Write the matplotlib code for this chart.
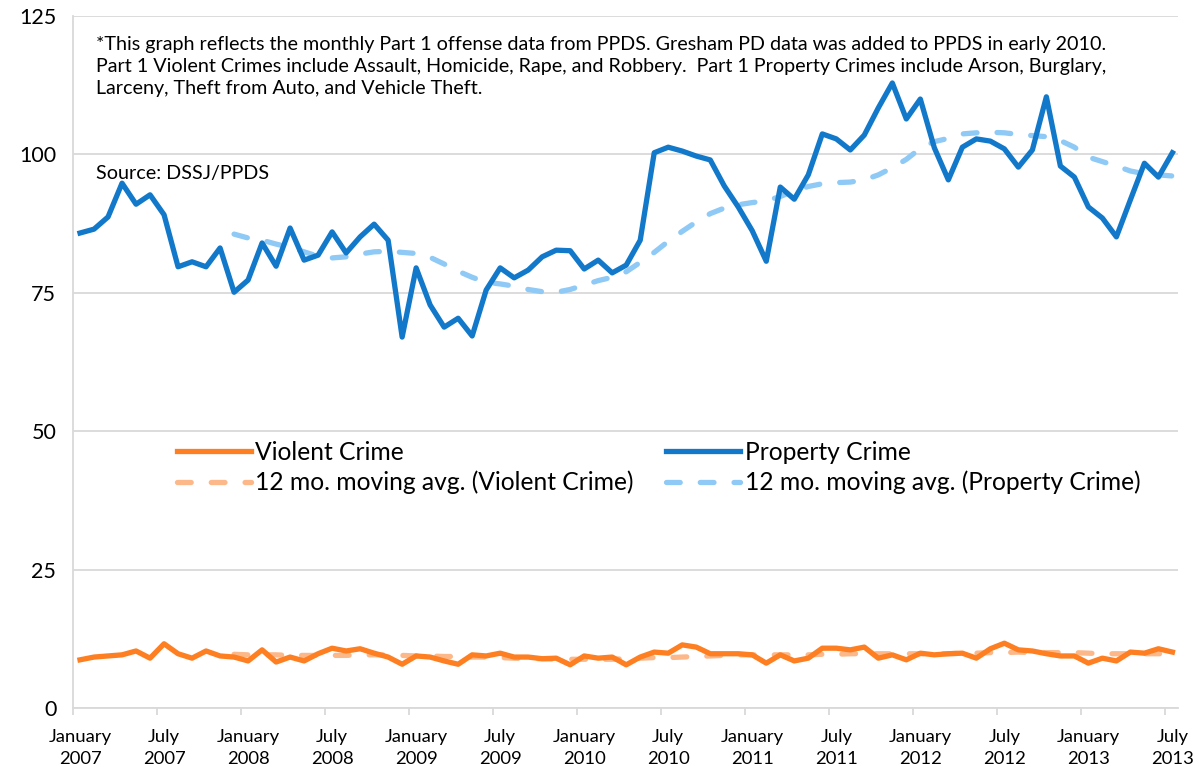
import numpy as np
import matplotlib
matplotlib.use("Agg")
import matplotlib.pyplot as plt

plt.rcParams['font.family'] = ['Lato', 'DejaVu Sans']

# monthly Part 1 offenses, Jan 2007 .. Jul 2013
property_crime = [
    85.8, 86.5, 88.7, 94.8, 91.0, 92.7, 89.1, 79.7, 80.6, 79.7, 83.1, 75.1,
    77.3, 84.0, 79.8, 86.7, 80.9, 81.8, 86.0, 82.2, 85.1, 87.4, 84.5, 67.0,
    79.5, 72.8, 68.8, 70.4, 67.2, 75.5, 79.5, 77.7, 79.1, 81.5, 82.7, 82.6,
    79.3, 80.9, 78.6, 80.0, 84.5, 100.3, 101.3, 100.6, 99.7, 99.0, 94.3, 90.5,
    86.2, 80.7, 94.1, 91.9, 96.3, 103.7, 102.8, 100.8, 103.5, 108.4, 112.9, 106.4,
    110.0, 101.2, 95.4, 101.3, 102.8, 102.4, 101.0, 97.7, 100.8, 110.4, 97.9, 95.9,
    90.5, 88.5, 85.1, 91.8, 98.4, 95.9, 100.3]

violent_crime = [
    8.7, 9.2, 9.4, 9.6, 10.3, 9.0, 11.6, 9.8, 9.0, 10.3, 9.4, 9.2,
    8.5, 10.5, 8.3, 9.2, 8.5, 9.8, 10.8, 10.3, 10.7, 9.9, 9.2, 7.9,
    9.4, 9.2, 8.5, 7.9, 9.6, 9.4, 9.9, 9.2, 9.2, 8.9, 9.0, 7.8,
    9.4, 9.0, 9.2, 7.8, 9.2, 10.1, 9.9, 11.4, 11.0, 9.8, 9.8, 9.8,
    9.6, 8.1, 9.6, 8.5, 9.0, 10.8, 10.8, 10.5, 11.0, 9.0, 9.6, 8.7,
    9.9, 9.6, 9.8, 9.9, 9.0, 10.7, 11.7, 10.5, 10.3, 9.8, 9.4, 9.4,
    8.1, 9.0, 8.5, 10.1, 9.9, 10.7, 10.1]

# 12 month moving averages, Dec 2007 .. Jul 2013
property_ma = [
    85.6, 84.9, 84.5, 83.8, 83.2, 82.4, 81.6, 81.3, 81.5, 82.0, 82.4, 82.5,
    82.3, 82.1, 81.4, 80.2, 78.9, 77.8, 76.9, 76.6, 76.2, 75.6, 75.2, 75.1,
    75.6, 76.4, 77.2, 77.8, 78.8, 80.5, 82.3, 84.3, 86.1, 87.8, 89.3, 90.3,
    90.9, 91.3, 91.6, 92.4, 93.4, 94.2, 94.7, 94.9, 95.0, 95.4, 96.3, 97.6,
    99.1, 101.1, 102.3, 102.9, 103.7, 103.9, 104.0, 103.9, 103.6, 103.4, 103.2, 102.5,
    101.3, 99.5, 98.7, 97.9, 97.0, 96.5, 96.3, 96.1]

violent_ma = [
    9.7, 9.6, 9.6, 9.6, 9.5, 9.5, 9.5, 9.5, 9.5, 9.6,
    9.6, 9.6, 9.5, 9.4, 9.4, 9.3, 9.3, 9.2, 9.2, 9.1,
    9.0, 8.9, 8.9, 8.8, 8.8, 8.8, 8.8, 8.8, 8.9, 9.0,
    9.1, 9.1, 9.2, 9.3, 9.4, 9.5, 9.6, 9.6, 9.6, 9.6,
    9.6, 9.6, 9.7, 9.7, 9.8, 9.8, 9.8, 9.8, 9.8, 9.8,
    9.8, 9.8, 9.9, 9.9, 10.0, 10.0, 10.1, 10.0, 10.0, 10.0,
    10.0, 9.9, 9.8, 9.8, 9.8, 9.8, 9.8, 9.7]

tick_labels = ['January\n2007', 'July\n2007', 'January\n2008', 'July\n2008',
               'January\n2009', 'July\n2009', 'January\n2010', 'July\n2010',
               'January\n2011', 'July\n2011', 'January\n2012', 'July\n2012',
               'January\n2013', 'July\n2013']

note = ("*This graph reflects the monthly Part 1 offense data from PPDS. Gresham PD data was added to PPDS in early 2010.\n"
        "Part 1 Violent Crimes include Assault, Homicide, Rape, and Robbery.  Part 1 Property Crimes include Arson, Burglary,\n"
        "Larceny, Theft from Auto, and Vehicle Theft.")

months = np.arange(len(property_crime))
ma_months = np.arange(len(property_crime) - len(property_ma), len(property_crime))

fig = plt.figure(figsize=(11.99, 7.73), dpi=100)
ax = fig.add_axes([0.0609, 0.0841, 0.9216, 0.8952])

orange = '#fd7f21'
orange_l = '#fdb88a'
blue = '#1278c9'
blue_l = '#8fc9f5'
lw = 3.8

ax.plot(months, violent_crime, color=orange, lw=lw, label='Violent Crime', zorder=3)
ax.plot(ma_months, violent_ma, color=orange_l, lw=lw, dashes=(2.6, 3.8), dash_capstyle='round',
        label='12 mo. moving avg. (Violent Crime)', zorder=2)
ax.plot(months, property_crime, color=blue, lw=lw, label='Property Crime', zorder=3)
ax.plot(ma_months, property_ma, color=blue_l, lw=lw, dashes=(2.6, 3.8), dash_capstyle='round',
        label='12 mo. moving avg. (Property Crime)', zorder=2)

ax.set_ylim(0, 125)
ax.set_xlim(-0.5, 78.4)
ax.set_yticks(np.arange(0, 126, 25))
ax.yaxis.grid(True, color='#d9d9d9', lw=1.3)
ax.set_axisbelow(True)
ax.tick_params(axis='y', length=0, pad=12, labelsize=15.5)

ax.set_xticks(months[::6])
ax.set_xticklabels(tick_labels, fontsize=13.3, linespacing=1.45)
ax.set_xticks(months[::6] - 0.5, minor=True)
ax.tick_params(axis='x', which='major', length=0, pad=15)
ax.tick_params(axis='x', which='minor', length=5, width=1.3, color='#d9d9d9')

for s in ['top', 'right']:
    ax.spines[s].set_visible(False)
for s in ['left', 'bottom']:
    ax.spines[s].set_color('#d9d9d9')
    ax.spines[s].set_linewidth(1.3)

ax.legend(ncol=2, loc='upper left', bbox_to_anchor=(0.085, 0.40), frameon=False,
          fontsize=17.7, handlelength=3.0, columnspacing=1.3, handletextpad=0.2,
          labelspacing=0.27, borderaxespad=0)

fig.text(0.080, 0.953, note, fontsize=14.2, va='top', ha='left', linespacing=1.33)
fig.text(0.080, 0.775, 'Source: DSSJ/PPDS', fontsize=14.2, va='center', ha='left')

fig.savefig('out.png', dpi=100)
